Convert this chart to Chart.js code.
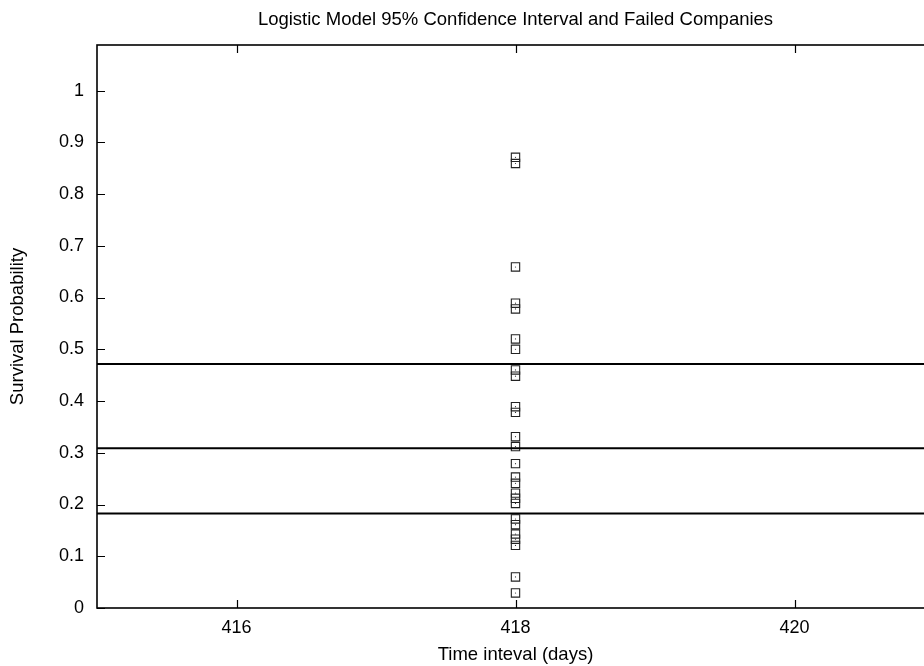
<!DOCTYPE html>
<html>
<head>
<meta charset="utf-8">
<script src="https://cdn.jsdelivr.net/npm/chart.js@4"></script>
<style>
  html, body { margin: 0; padding: 0; background: #fff; overflow: hidden; width: 924px; height: 666px; }
  canvas { display: block; }
</style>
</head>
<body>
<canvas id="c" width="1031" height="666"></canvas>
<script>
// Titles
const chartTitle = 'Logistic Model 95% Confidence Interval and Failed Companies';
const xTitle = 'Time inteval (days)';
const yTitle = 'Survival Probability';

// Axes
const xTicks = [416, 418, 420];
const xTickLabels = ['416', '418', '420'];
const yTicks = [0, 0.1, 0.2, 0.3, 0.4, 0.5, 0.6, 0.7, 0.8, 0.9, 1];
const yTickLabels = ['0', '0.1', '0.2', '0.3', '0.4', '0.5', '0.6', '0.7', '0.8', '0.9', '1'];
const xRange = [415, 421];
const yRange = [0, 1.088];

// Failed companies: all observed at the same time interval
const failureDay = 418;
const failedSurvival = [0.871, 0.859, 0.659, 0.589, 0.578, 0.520, 0.500, 0.460, 0.448,
  0.389, 0.378, 0.331, 0.312, 0.279, 0.253, 0.241, 0.222, 0.212, 0.202, 0.172, 0.161,
  0.143, 0.133, 0.121, 0.060, 0.029];

// Logistic model: upper bound, estimate, lower bound
const confidenceLevels = [0.4717, 0.3085, 0.1827];

const FONT = 'Liberation Sans, Arial, Helvetica, sans-serif';
const FONT_SIZE = 18.5;
const TICK_FONT_SIZE = 18;
const INK = '#000';
const RIGHT_MARGIN = 97;

const failedPoints = failedSurvival.map(v => ({ x: failureDay, y: v }));

const lineSets = confidenceLevels.map(level => ({
  type: 'line',
  data: [{ x: xRange[0], y: level }, { x: xRange[1], y: level }],
  borderColor: INK,
  borderWidth: 2,
  pointRadius: 0,
  fill: false,
  tension: 0
}));

// Plot frame with inward tick marks on all four sides
const framePlugin = {
  id: 'frame',
  afterDatasetsDraw(chart) {
    const { ctx, chartArea: a, scales } = chart;
    const tick = 8;
    ctx.save();
    ctx.strokeStyle = INK;
    ctx.lineWidth = 1.6;
    ctx.strokeRect(a.left, a.top, a.right - a.left, a.bottom - a.top);
    ctx.lineWidth = 1.2;
    ctx.beginPath();
    xTicks.forEach(v => {
      const px = Math.round(scales.x.getPixelForValue(v)) + 0.5;
      ctx.moveTo(px, a.bottom); ctx.lineTo(px, a.bottom - tick);
      ctx.moveTo(px, a.top); ctx.lineTo(px, a.top + tick);
    });
    yTicks.forEach(v => {
      const py = Math.round(scales.y.getPixelForValue(v)) + 0.5;
      ctx.moveTo(a.left, py); ctx.lineTo(a.left + tick, py);
      ctx.moveTo(a.right, py); ctx.lineTo(a.right - tick, py);
    });
    ctx.stroke();
    ctx.restore();
  }
};

new Chart(document.getElementById('c'), {
  type: 'scatter',
  data: {
    datasets: [
      ...lineSets,
      {
        data: failedPoints,
        pointStyle: 'rect',
        pointRadius: 5.9,
        pointBorderWidth: 1.1,
        pointBorderColor: '#222',
        pointBackgroundColor: 'rgba(0,0,0,0)',
        showLine: false
      },
      {
        data: failedPoints,
        pointStyle: 'circle',
        pointRadius: 0.6,
        pointBorderWidth: 0,
        pointBackgroundColor: '#333',
        showLine: false
      }
    ]
  },
  options: {
    responsive: false,
    animation: false,
    devicePixelRatio: 1,
    layout: { padding: 0 },
    plugins: {
      legend: { display: false },
      tooltip: { enabled: false },
      title: {
        display: true,
        text: chartTitle,
        color: INK,
        font: { family: FONT, size: FONT_SIZE, weight: 'normal', lineHeight: 1.2 },
        padding: { top: 8.4, bottom: 14.4 }
      }
    },
    scales: {
      x: {
        type: 'linear',
        min: xRange[0],
        max: xRange[1],
        afterBuildTicks(s) { s.ticks = xTicks.map(v => ({ value: v })); },
        afterFit(s) { s.height = 58; s.paddingLeft = 0; s.paddingRight = RIGHT_MARGIN; },
        grid: { display: false, drawTicks: false },
        border: { display: false },
        ticks: {
          color: INK,
          padding: 9,
          font: { family: FONT, size: TICK_FONT_SIZE },
          maxRotation: 0,
          callback: (v, i) => xTickLabels[i]
        },
        title: {
          display: true,
          text: xTitle,
          color: INK,
          font: { family: FONT, size: FONT_SIZE },
          padding: { top: 0, bottom: 0.3 }
        }
      },
      y: {
        type: 'linear',
        min: yRange[0],
        max: yRange[1],
        afterBuildTicks(s) { s.ticks = yTicks.map(v => ({ value: v })); },
        afterFit(s) { s.width = 97; s.paddingTop = 0; s.paddingBottom = 0; },
        grid: { display: false, drawTicks: false },
        border: { display: false },
        ticks: {
          color: INK,
          padding: 13,
          font: { family: FONT, size: TICK_FONT_SIZE },
          callback: (v, i) => yTickLabels[i]
        },
        title: {
          display: true,
          text: yTitle,
          color: INK,
          font: { family: FONT, size: FONT_SIZE },
          padding: { top: 7.2, bottom: 0 }
        }
      }
    }
  },
  plugins: [framePlugin]
});
</script>
</body>
</html>
